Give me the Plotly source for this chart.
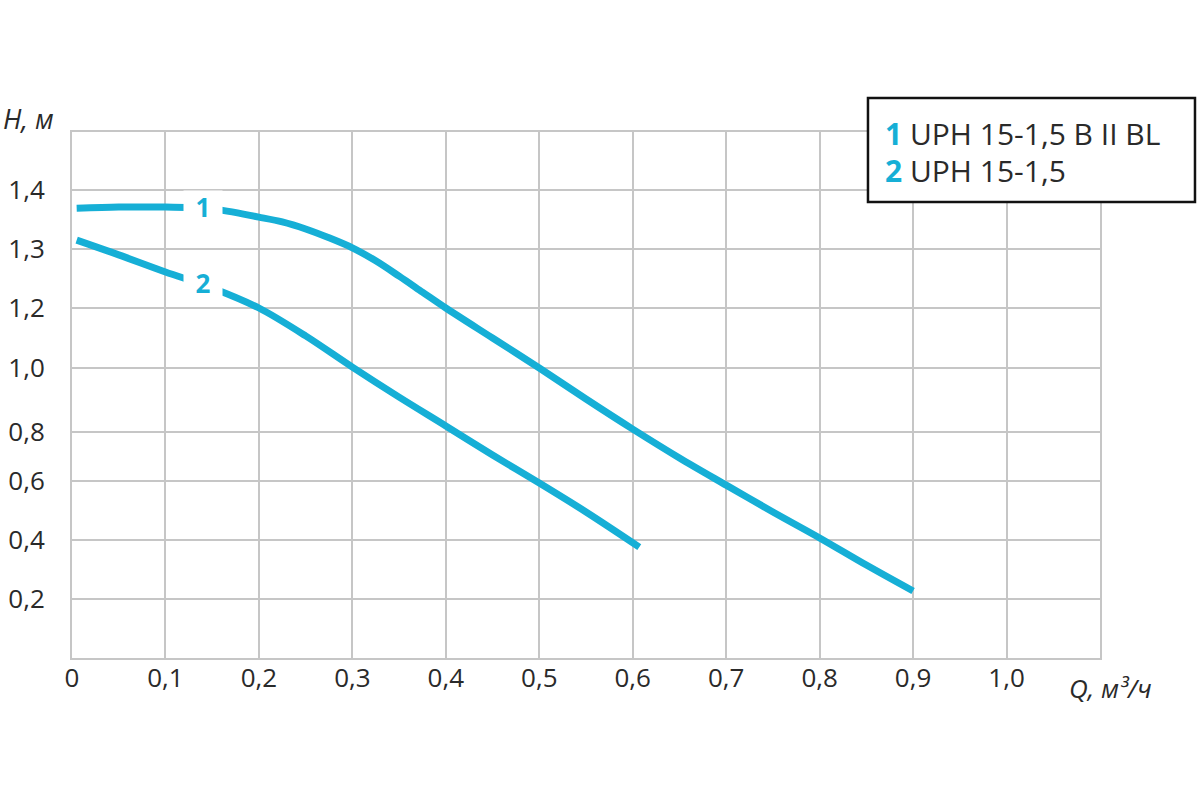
import numpy as np
import plotly.graph_objects as go

# ---- data ----
SERIES_NAMES = ["UPH 15-1,5 B II BL", "UPH 15-1,5"]
CURVE_LABELS = ["1", "2"]

Q1 = [0.005, 0.05, 0.10, 0.15, 0.20, 0.225, 0.25, 0.275, 0.30, 0.325, 0.35, 0.375, 0.40,
      0.45, 0.50, 0.55, 0.60, 0.65, 0.70, 0.75, 0.80, 0.85, 0.90]
H1 = [1.369, 1.371, 1.371, 1.368, 1.354, 1.346, 1.334, 1.319, 1.302, 1.280, 1.254, 1.227, 1.200,
      1.100, 1.000, 0.903, 0.809, 0.694, 0.586, 0.495, 0.407, 0.315, 0.227]

Q2 = [0.005, 0.05, 0.10, 0.15, 0.20, 0.25, 0.30, 0.35, 0.40, 0.45, 0.50, 0.55, 0.607]
H2 = [1.315, 1.290, 1.261, 1.234, 1.200, 1.107, 1.003, 0.909, 0.819, 0.706, 0.593, 0.495, 0.376]

X_TICK_VALUES = [0, 0.1, 0.2, 0.3, 0.4, 0.5, 0.6, 0.7, 0.8, 0.9, 1.0]
X_TICK_LABELS = ["0", "0,1", "0,2", "0,3", "0,4", "0,5", "0,6", "0,7", "0,8", "0,9", "1,0"]

Y_TICK_VALUES = [0.2, 0.4, 0.6, 0.8, 1.0, 1.2, 1.3, 1.4]
Y_TICK_LABELS = ["0,2", "0,4", "0,6", "0,8", "1,0", "1,2", "1,3", "1,4"]

# ---- irregular vertical scale of the original chart (layout) ----
Y_SCALE_VALUES = [0.0] + Y_TICK_VALUES + [1.5]
Y_SCALE_POS = [0, 59, 118, 177, 226, 290, 350, 409, 468, 526]


def to_axis(h):
    return np.interp(h, Y_SCALE_VALUES, Y_SCALE_POS)


CYAN = "#16afd6"
GRID = "#c6c6c6"
TEXT = "#2a2a2a"
FONT = "Open Sans"

fig = go.Figure()
for q, h in [(Q1, H1), (Q2, H2)]:
    fig.add_trace(go.Scatter(
        x=q, y=to_axis(h), mode="lines",
        line=dict(color=CYAN, width=7, shape="spline", smoothing=0.9),
        hoverinfo="skip", showlegend=False,
    ))

# curve number labels (white box interrupts the line)
LABEL_Q = 0.14
for lab, q, h in zip(CURVE_LABELS, [Q1, Q2], [H1, H2]):
    fig.add_annotation(
        x=LABEL_Q, y=float(to_axis(np.interp(LABEL_Q, q, h))) + 2,
        text=f"<b>{lab}</b>", showarrow=False,
        font=dict(family=FONT, size=26, color=CYAN),
        bgcolor="white", width=36, height=30, xanchor="center", yanchor="middle",
    )

# legend box
fig.add_shape(type="rect", xref="paper", yref="paper",
              x0=0.7743, x1=1.0924, y0=0.8669, y1=1.0646,
              line=dict(color="#111111", width=2.5), fillcolor="white", layer="above")
for i, (lab, name) in enumerate(zip(CURVE_LABELS, SERIES_NAMES)):
    fig.add_annotation(
        xref="paper", yref="paper", x=0.7885, y=0.998 - i * 0.0705,
        text=f"<span style='color:{CYAN}'><b>{lab}</b></span> {name}",
        showarrow=False, xanchor="left", yanchor="middle", align="left",
        font=dict(family=FONT, size=30, color=TEXT),
    )

# axis titles
fig.add_annotation(xref="paper", yref="paper", x=-0.069, y=1.025, text="<i>H, м</i>",
                   showarrow=False, xanchor="left", yanchor="middle",
                   font=dict(family=FONT, size=27, color=TEXT))
fig.add_annotation(xref="paper", yref="paper", x=0.968, y=-0.057, text="<i>Q, м³/ч</i>",
                   showarrow=False, xanchor="left", yanchor="middle",
                   font=dict(family=FONT, size=26, color=TEXT))

fig.update_xaxes(
    range=[0, 1.1], tickvals=X_TICK_VALUES, ticktext=X_TICK_LABELS,
    showgrid=True, gridcolor=GRID, gridwidth=2, zeroline=False,
    showline=True, linecolor=GRID, linewidth=2, mirror=True,
    ticks="", ticklabelstandoff=-4, automargin=False,
    tickfont=dict(family=FONT, size=26, color=TEXT), fixedrange=True,
)
fig.update_yaxes(
    range=[0, 526], tickvals=to_axis(Y_TICK_VALUES), ticktext=Y_TICK_LABELS,
    showgrid=True, gridcolor=GRID, gridwidth=2, zeroline=False,
    showline=True, linecolor=GRID, linewidth=2, mirror=True,
    ticks="outside", ticklen=20, tickcolor="rgba(0,0,0,0)", automargin=False,
    tickfont=dict(family=FONT, size=26, color=TEXT), fixedrange=True,
)
fig.update_layout(
    width=1200, height=800, autosize=False,
    margin=dict(l=72, r=100, t=132, b=142),
    paper_bgcolor="white", plot_bgcolor="white",
    showlegend=False,
)
fig.write_html("out.html")
